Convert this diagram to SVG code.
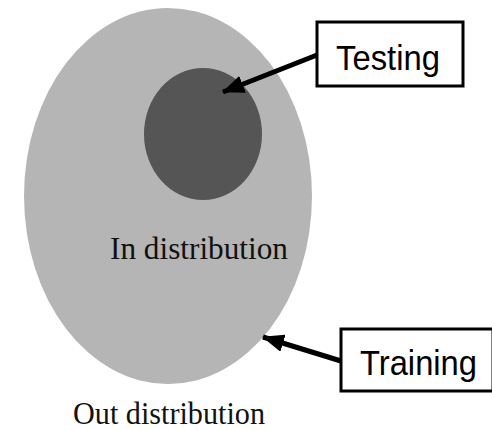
<svg xmlns="http://www.w3.org/2000/svg" width="492" height="430" viewBox="0 0 492 430">
<style>
.lbl{font-family:"Liberation Sans",Calibri,Carlito,sans-serif;font-size:35px;fill:#000}
.ser{font-family:"Liberation Serif","Times New Roman",serif;font-size:32px;fill:#111}
.box{fill:#fff;stroke:#000;stroke-width:3}
.con{stroke:#000;stroke-width:5;fill:none}
</style>
<defs>
<marker id="ah" markerWidth="4.4" markerHeight="3.6" refX="4.2" refY="1.8" orient="auto" markerUnits="strokeWidth">
<path d="M0,0 L4.4,1.8 L0,3.6 Z" fill="#000"/>
</marker>
</defs>
<rect width="492" height="430" fill="#fff"/>
<g id="out">
<ellipse cx="168" cy="196" rx="144" ry="188" fill="#b5b5b5"/>
<text class="ser" x="73" y="424" textLength="192" lengthAdjust="spacingAndGlyphs">Out distribution</text>
</g>
<g id="in">
<ellipse cx="203" cy="134" rx="59" ry="66" fill="#555555"/>
<text class="ser" x="110" y="259" textLength="178" lengthAdjust="spacingAndGlyphs">In distribution</text>
</g>
<g id="testing">
<rect class="box" x="317" y="22" width="146" height="64"/>
<text class="lbl" x="336" y="70" textLength="104" lengthAdjust="spacingAndGlyphs">Testing</text>
</g>
<g id="training">
<rect class="box" x="341" y="329" width="152" height="62"/>
<text class="lbl" x="360" y="375" textLength="117" lengthAdjust="spacingAndGlyphs">Training</text>
</g>
<g id="connectors">
<line class="con" x1="317" y1="55" x2="223" y2="92" marker-end="url(#ah)"/>
<line class="con" x1="341" y1="361" x2="263" y2="337" marker-end="url(#ah)"/>
</g>
</svg>
